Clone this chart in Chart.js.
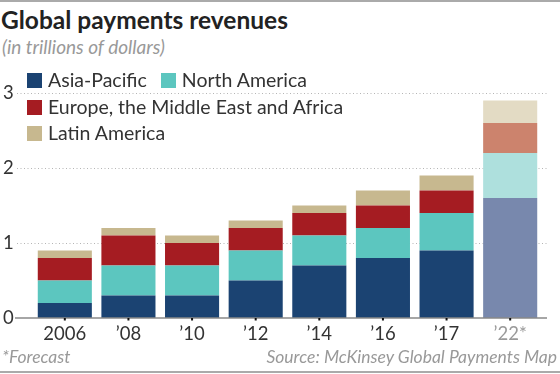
<!DOCTYPE html>
<html lang="en">
<head>
    <meta charset="UTF-8">
    <title>Global payments revenues</title>
    <script src="https://cdn.jsdelivr.net/npm/chart.js"></script>
    <style>
        body {
            margin: 0;
            width: 560px;
            height: 374px;
            position: relative;
            font-family: Lato, "Open Sans", sans-serif;
            background: #fff;
            overflow: hidden;
        }
        .topline {
            position: absolute; left: 0; top: 0; width: 560px; height: 2px; background: #aaa;
        }
        .bottomline {
            position: absolute; left: 0; top: 371px; width: 560px; height: 2px; background: #aaa;
        }
        h1 {
            position: absolute; left: 1px; top: 5px; margin: 0;
            font-size: 24.5px; font-weight: 700; color: #222;
        }
        .sub {
            position: absolute; left: 2px; top: 35px;
            font-size: 19px; font-style: italic; color: #999;
        }
        canvas { position: absolute; left: 0; top: 0; }
        .legend {
            position: absolute; left: 27px; top: 68px; font-size: 19.5px; color: #333;
        }
        .legend .row { height: 26.5px; white-space: nowrap; }
        .legend .item { display: inline-block; margin-right: 14px; }
        .legend .sw {
            display: inline-block; width: 15px; height: 15px; margin-right: 6px; vertical-align: -1px;
        }
        .foot {
            position: absolute; top: 346px; font-size: 17.5px; font-style: italic; color: #999;
        }
    </style>
</head>
<body>
    <div class="topline"></div>
    <h1>Global payments revenues</h1>
    <div class="sub">(in trillions of dollars)</div>
    <canvas id="chart" width="560" height="374"></canvas>
    <div class="legend" id="legend"></div>
    <div class="foot" style="left:2px">*Forecast</div>
    <div class="foot" style="right:3px">Source: McKinsey Global Payments Map</div>
    <div class="bottomline"></div>

    <script>
        // data
        var years = ['2006', '\u201908', '\u201910', '\u201912', '\u201914', '\u201916', '\u201917', '\u201922*'];
        var asiaPacific = [0.2, 0.3, 0.3, 0.5, 0.7, 0.8, 0.9, 1.6];
        var northAmerica = [0.3, 0.4, 0.4, 0.4, 0.4, 0.4, 0.5, 0.6];
        var emea = [0.3, 0.4, 0.3, 0.3, 0.3, 0.3, 0.3, 0.4];
        var latinAmerica = [0.1, 0.1, 0.1, 0.1, 0.1, 0.2, 0.2, 0.3];
        var yTicks = [0, 1, 2, 3];
        var forecastIndex = 7;

        var series = [
            { label: 'Asia-Pacific', data: asiaPacific, color: '#1b4372', light: '#7888ad' },
            { label: 'North America', data: northAmerica, color: '#5cc6bf', light: '#aee0dd' },
            { label: 'Europe, the Middle East and Africa', data: emea, color: '#a51c22', light: '#cc836d' },
            { label: 'Latin America', data: latinAmerica, color: '#c7b88f', light: '#e3dbc4' }
        ];

        // legend rows like the original
        var rows = [[0, 1], [2], [3]];
        var legendHtml = '';
        rows.forEach(function (r) {
            legendHtml += '<div class="row">';
            r.forEach(function (i) {
                legendHtml += '<span class="item"><span class="sw" style="background:' + series[i].color + '"></span>' + series[i].label + '</span>';
            });
            legendHtml += '</div>';
        });
        document.getElementById('legend').innerHTML = legendHtml;

        // dotted grid, axis line and tick dots
        var decorations = {
            id: 'decorations',
            beforeDatasetsDraw: function (chart) {
                var ctx = chart.ctx, y = chart.scales.y;
                ctx.save();
                ctx.strokeStyle = '#b5b5b5';
                ctx.lineWidth = 1;
                ctx.setLineDash([1, 2.5]);
                yTicks.forEach(function (v) {
                    if (v === 0) return;
                    var py = Math.round(y.getPixelForValue(v)) + 0.5;
                    ctx.beginPath();
                    ctx.moveTo(17, py);
                    ctx.lineTo(547, py);
                    ctx.stroke();
                });
                ctx.restore();
            },
            afterDatasetsDraw: function (chart) {
                var ctx = chart.ctx, x = chart.scales.x, y = chart.scales.y;
                var py = y.getPixelForValue(0);
                ctx.save();
                ctx.strokeStyle = '#888';
                ctx.lineWidth = 1.5;
                ctx.beginPath();
                ctx.moveTo(15, py);
                ctx.lineTo(547, py);
                ctx.stroke();
                ctx.fillStyle = '#111';
                years.forEach(function (yr, i) {
                    var px = x.getPixelForValue(i);
                    ctx.fillRect(px - 1, py, 2, 2.5);
                });
                ctx.restore();
            }
        };

        var ctx = document.getElementById('chart').getContext('2d');
        var chart = new Chart(ctx, {
            type: 'bar',
            data: {
                labels: years,
                datasets: series.map(function (s) {
                    return {
                        label: s.label,
                        data: s.data,
                        backgroundColor: s.data.map(function (v, i) { return i === forecastIndex ? s.light : s.color; }),
                        borderWidth: 0
                    };
                })
            },
            options: {
                responsive: false,
                animation: false,
                events: [],
                layout: { padding: { left: 3, right: 18, top: 93, bottom: 0 } },
                plugins: { legend: { display: false }, tooltip: { enabled: false } },
                datasets: { bar: { categoryPercentage: 1, barPercentage: 0.85 } },
                scales: {
                    x: {
                        stacked: true,
                        border: { display: false },
                        grid: { display: false, drawTicks: false },
                        ticks: {
                            padding: 5,
                            font: { family: 'Lato', size: 18.5 },
                            color: function (c) { return c.index === forecastIndex ? '#9a9a9a' : '#333'; }
                        },
                        afterFit: function (s) { s.height = 56; }
                    },
                    y: {
                        stacked: true,
                        min: 0,
                        max: 3,
                        border: { display: false },
                        grid: { display: false, drawTicks: false },
                        afterBuildTicks: function (s) { s.ticks = yTicks.map(function (v) { return { value: v }; }); },
                        ticks: {
                            crossAlign: 'far',
                            padding: 0,
                            font: { family: 'Lato', size: 18.5 },
                            color: '#333'
                        },
                        afterFit: function (s) { s.width = 30; }
                    }
                }
            },
            plugins: [decorations]
        });
    </script>
</body>
</html>
